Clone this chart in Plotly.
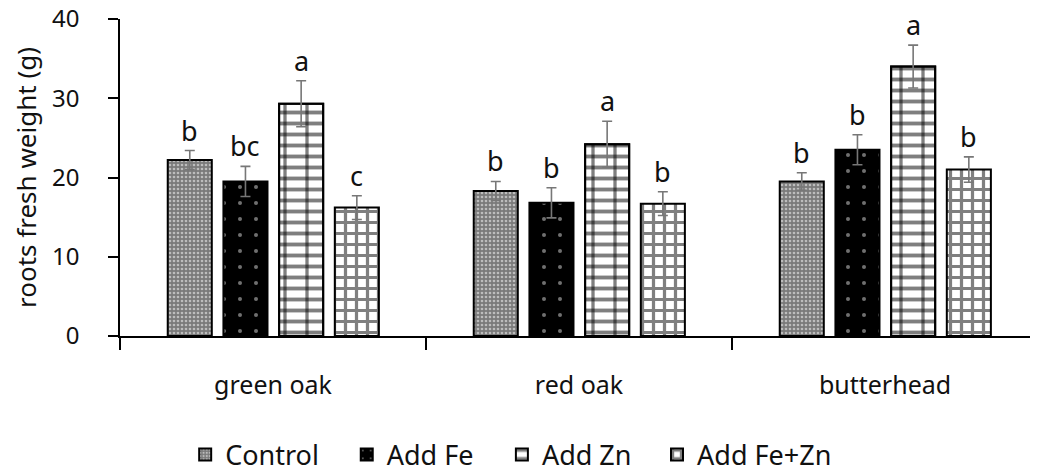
import plotly.graph_objects as go

categories = ["green oak", "red oak", "butterhead"]
treatments = ["Control", "Add Fe", "Add Zn", "Add Fe+Zn"]

control = [22.2, 18.3, 19.5]
add_fe = [19.5, 16.8, 23.5]
add_zn = [29.3, 24.2, 34.0]
add_fezn = [16.2, 16.7, 21.0]

err_control = [1.2, 1.2, 1.1]
err_fe = [1.9, 1.9, 1.9]
err_zn = [2.9, 2.9, 2.7]
err_fezn = [1.5, 1.5, 1.6]

letters_control = ["b", "b", "b"]
letters_fe = ["bc", "b", "b"]
letters_zn = ["a", "a", "a"]
letters_fezn = ["c", "b", "b"]

values = [control, add_fe, add_zn, add_fezn]
errors = [err_control, err_fe, err_zn, err_fezn]
letters = [letters_control, letters_fe, letters_zn, letters_fezn]

# layout constants (category units)
BAR_W = 0.144
STEP = 0.182
FIRST = -0.344
offsets = [FIRST + k * STEP for k in range(4)]
legend_names = ["legend", "legend2", "legend3", "legend4"]
legend_x = [0.071, 0.247, 0.416, 0.585]

FONT = "Noto Sans"
err_style = dict(type="data", visible=True, color="#777777", thickness=1.6, width=5)

patterns = [
    dict(shape=".", fgcolor="white", bgcolor="#7a7a7a", size=4, solidity=0.35),
    dict(shape=".", fgcolor="#e0e0e0", bgcolor="black", size=16, solidity=0.05),
    dict(shape="-", fgcolor="black", bgcolor="white", size=11, solidity=0.35),
    dict(shape="+", fgcolor="black", bgcolor="white", size=11, solidity=0.5),
]

fig = go.Figure()
idx = list(range(len(categories)))
for k in range(4):
    show_err = k != 2
    fig.add_trace(go.Bar(
        x=idx, y=values[k], name=treatments[k],
        width=BAR_W, offset=offsets[k],
        marker=dict(color="white", pattern=patterns[k],
                    line=dict(color="black", width=2)),
        error_y=dict(array=errors[k], **err_style) if show_err else None,
        showlegend=True, legend=legend_names[k],
    ))
    if k == 2:
        # vertical joints of the brick pattern
        fig.add_trace(go.Bar(
            x=idx, y=values[k], name=treatments[k],
            width=BAR_W, offset=offsets[k],
            marker=dict(color="rgba(0,0,0,0)",
                        pattern=dict(shape="|", fgcolor="black",
                                     bgcolor="rgba(0,0,0,0)", size=22, solidity=0.15),
                        line=dict(color="black", width=2)),
            error_y=dict(array=errors[k], **err_style),
            showlegend=False, hoverinfo="skip",
        ))

annotations = []
for k in range(4):
    for i in idx:
        annotations.append(dict(
            x=i + offsets[k] + BAR_W / 2, y=values[k][i] + errors[k][i],
            xref="x", yref="y", text=letters[k][i], showarrow=False,
            yanchor="bottom", yshift=0,
            font=dict(family=FONT, size=27, color="#111111"),
        ))

legend_common = dict(orientation="h", xanchor="left", y=-0.375, yanchor="middle",
                     font=dict(size=27, family=FONT), itemwidth=30,
                     bgcolor="rgba(0,0,0,0)")

# the page body adds an 8px offset; the figure is sized to compensate
fig.update_layout(
    width=1030, height=466,
    margin=dict(l=112, r=0, t=11, b=138, autoexpand=False),
    paper_bgcolor="white", plot_bgcolor="white",
    barmode="overlay",
    font=dict(family=FONT, size=24, color="#111111"),
    annotations=annotations,
)
for name, lx in zip(legend_names, legend_x):
    fig.update_layout({name: dict(x=lx, **legend_common)})

fig.update_xaxes(
    range=[-0.5, 2.5], tickmode="array", tickvals=idx, ticktext=categories,
    showline=True, linecolor="black", linewidth=1.5,
    ticks="", showgrid=False, zeroline=False, automargin=False,
    tickfont=dict(size=25), ticklabelstandoff=26,
)
# boundary ticks drawn via minor ticks at category edges
fig.update_xaxes(minor=dict(tickmode="array", tickvals=[-0.5, 0.5, 1.5, 2.5],
                            ticks="outside", ticklen=12, tickwidth=1.5, tickcolor="black"))
fig.update_yaxes(
    range=[0, 40], dtick=10, showline=True, linecolor="black", linewidth=1.5,
    ticks="outside", ticklen=10, tickwidth=1.5, tickcolor="black",
    showgrid=False, zeroline=False, ticklabelstandoff=24, automargin=False,
    tickfont=dict(size=24), ticklabeloverflow="allow",
    title=dict(text="roots fresh weight (g)", font=dict(size=26), standoff=16),
)

fig.write_html("out.html")
